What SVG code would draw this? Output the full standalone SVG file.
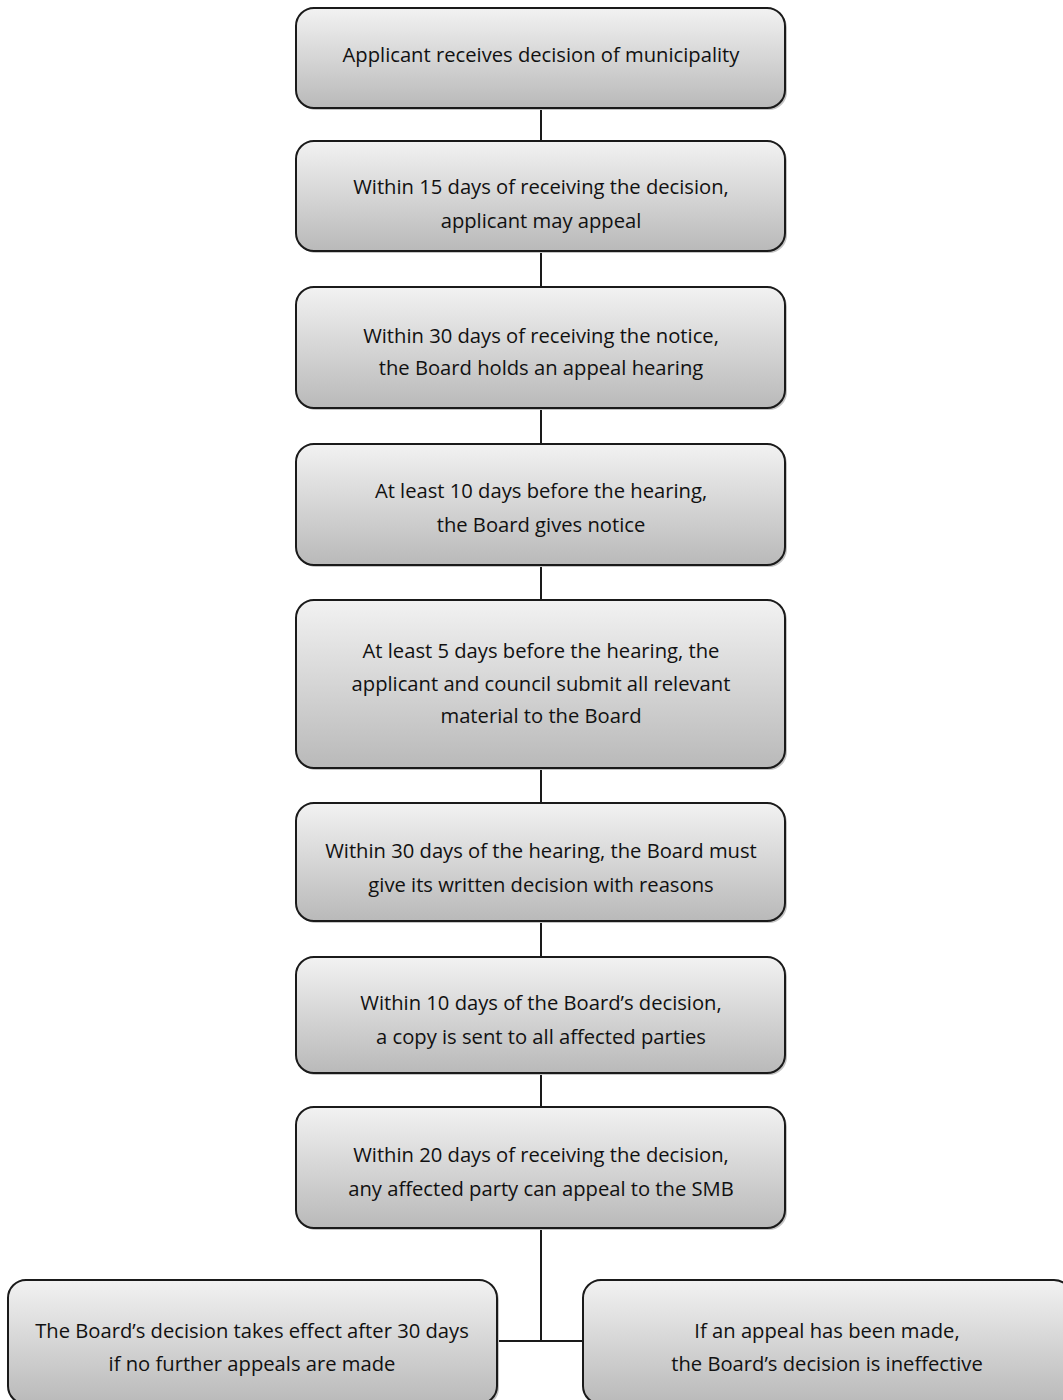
<svg xmlns="http://www.w3.org/2000/svg" width="1063" height="1400" viewBox="0 0 1063 1400">
<style>
.box{fill:url(#g);stroke:#1a1a1a;stroke-width:2}
.sh{fill:#c4c4c4}
text{font-family:"Open Sans","Liberation Sans",sans-serif;font-size:20.2px;fill:#111;text-anchor:middle}
.c{stroke:#1a1a1a;stroke-width:2;fill:none}
</style>
<defs>
<linearGradient id="g" x1="0" y1="0" x2="0" y2="1">
<stop offset="0" stop-color="#f2f2f2"/>
<stop offset="1" stop-color="#b9b9b9"/>
</linearGradient>
</defs>
<rect width="1063" height="1400" fill="#fff"/>
<g id="connectors">
<path class="c" d="M541 108V141M541 251V287M541 408V444M541 565V600M541 768V803M541 921V957M541 1073V1107M541 1228V1341M497 1341H583"/>
</g>
<g id="n1"><rect class="sh" x="298" y="10" width="489" height="100" rx="18"/><rect class="box" x="296" y="8" width="489" height="100" rx="18"/>
<text x="541" y="62">Applicant receives decision of municipality</text></g>
<g id="n2"><rect class="sh" x="298" y="143" width="489" height="110" rx="18"/><rect class="box" x="296" y="141" width="489" height="110" rx="18"/>
<text x="541" y="194">Within 15 days of receiving the decision,</text><text x="541" y="228">applicant may appeal</text></g>
<g id="n3"><rect class="sh" x="298" y="289" width="489" height="121" rx="18"/><rect class="box" x="296" y="287" width="489" height="121" rx="18"/>
<text x="541" y="343">Within 30 days of receiving the notice,</text><text x="541" y="375">the Board holds an appeal hearing</text></g>
<g id="n4"><rect class="sh" x="298" y="446" width="489" height="121" rx="18"/><rect class="box" x="296" y="444" width="489" height="121" rx="18"/>
<text x="541" y="498">At least 10 days before the hearing,</text><text x="541" y="532">the Board gives notice</text></g>
<g id="n5"><rect class="sh" x="298" y="602" width="489" height="168" rx="18"/><rect class="box" x="296" y="600" width="489" height="168" rx="18"/>
<text x="541" y="658">At least 5 days before the hearing, the</text><text x="541" y="691">applicant and council submit all relevant</text><text x="541" y="723">material to the Board</text></g>
<g id="n6"><rect class="sh" x="298" y="805" width="489" height="118" rx="18"/><rect class="box" x="296" y="803" width="489" height="118" rx="18"/>
<text x="541" y="858">Within 30 days of the hearing, the Board must</text><text x="541" y="892">give its written decision with reasons</text></g>
<g id="n7"><rect class="sh" x="298" y="959" width="489" height="116" rx="18"/><rect class="box" x="296" y="957" width="489" height="116" rx="18"/>
<text x="541" y="1010">Within 10 days of the Board’s decision,</text><text x="541" y="1044">a copy is sent to all affected parties</text></g>
<g id="n8"><rect class="sh" x="298" y="1109" width="489" height="121" rx="18"/><rect class="box" x="296" y="1107" width="489" height="121" rx="18"/>
<text x="541" y="1162">Within 20 days of receiving the decision,</text><text x="541" y="1196">any affected party can appeal to the SMB</text></g>
<g id="n9"><rect class="sh" x="10" y="1282" width="489" height="124" rx="18"/><rect class="box" x="8" y="1280" width="489" height="124" rx="18"/>
<text x="252" y="1338">The Board’s decision takes effect after 30 days</text><text x="252" y="1371">if no further appeals are made</text></g>
<g id="n10"><rect class="sh" x="585" y="1282" width="489" height="124" rx="18"/><rect class="box" x="583" y="1280" width="489" height="124" rx="18"/>
<text x="827" y="1338">If an appeal has been made,</text><text x="827" y="1371">the Board’s decision is ineffective</text></g>
</svg>
